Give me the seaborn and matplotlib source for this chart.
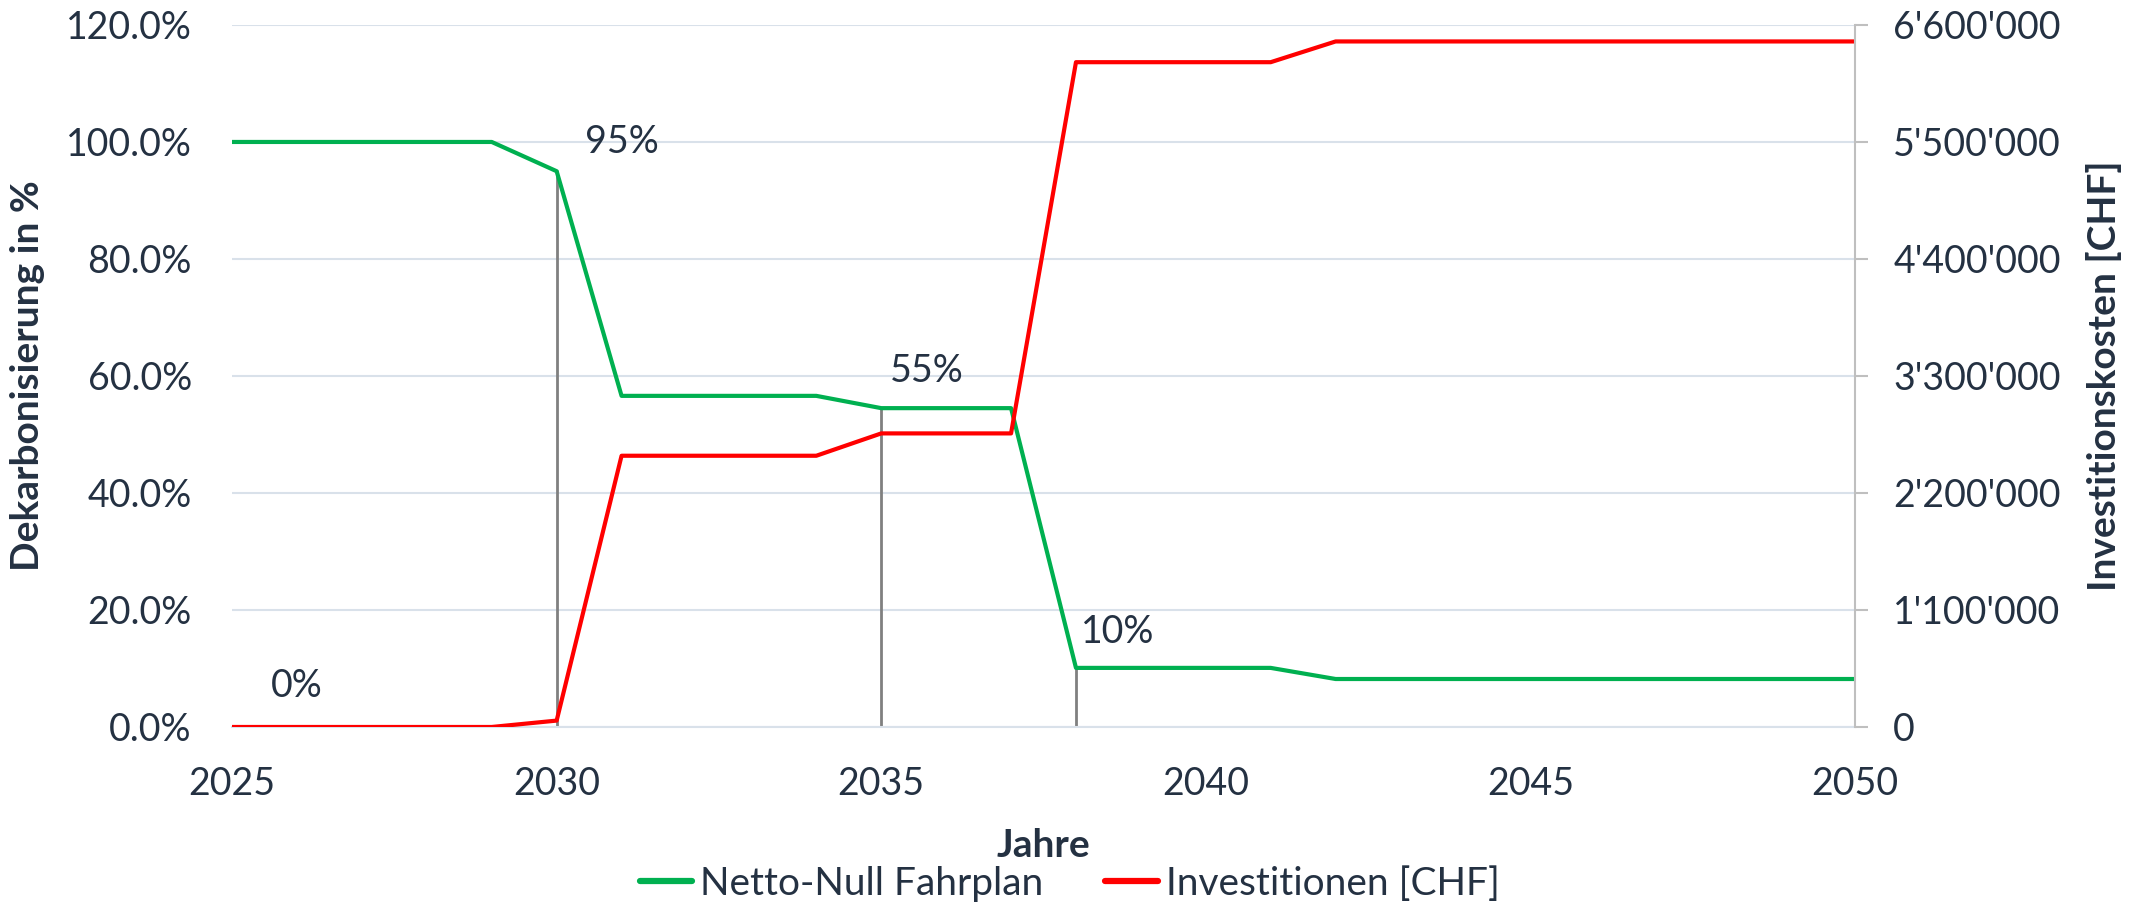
"""
Netto-Null Fahrplan: Dekarbonisierung und Investitionskosten 2025-2050.
"""

import matplotlib
matplotlib.use('Agg')
import numpy as np
import pandas as pd
import matplotlib.pyplot as plt
import seaborn as sns
from matplotlib.ticker import FuncFormatter

# -- Daten --
jahre = list(range(2025, 2051))
dekarbonisierung = [100.0, 100.0, 100.0, 100.0, 100.0, 95.0,
                    56.6, 56.6, 56.6, 56.6, 54.5, 54.5, 54.5,
                    10.1, 10.1, 10.1, 10.1, 8.2, 8.2, 8.2, 8.2,
                    8.2, 8.2, 8.2, 8.2, 8.2]
investitionen = [0, 0, 0, 0, 0, 60000,
                 2550000, 2550000, 2550000, 2550000, 2760000, 2760000, 2760000,
                 6250000, 6250000, 6250000, 6250000, 6445000, 6445000, 6445000,
                 6445000, 6445000, 6445000, 6445000, 6445000, 6445000]

# Beschriftungen (Text, Jahr, Wert in %)
label_texte = ['0%', '95%', '55%', '10%']
label_jahre = [2026.0, 2031.0, 2035.7, 2038.65]
label_werte = [7.0, 100.0, 60.8, 16.3]

# Senkrechte Markierungen
marker_jahre = [2030, 2035, 2038]

df = pd.DataFrame({'Jahr': jahre, 'Dekarbonisierung': dekarbonisierung,
                   'Investitionen': investitionen})

sns.set_style('white')
plt.rcParams['font.family'] = ['Lato', 'DejaVu Sans']

TEXT = '#243142'
GRUEN = '#00B050'
ROT = '#FF0000'
GRID = '#D9E1EA'
ACHSE = '#BFBFBF'

fig = plt.figure(figsize=(21.39, 9.11), dpi=100)
ax = fig.add_axes([0.1085, 0.202, 0.7587, 0.7706])
ax2 = ax.twinx()

sns.lineplot(data=df, x='Jahr', y='Dekarbonisierung', ax=ax, color=GRUEN,
             linewidth=3.0, label='Netto-Null Fahrplan', legend=False)
sns.lineplot(data=df, x='Jahr', y='Investitionen', ax=ax2, color=ROT,
             linewidth=3.0, label='Investitionen [CHF]', legend=False)

# senkrechte graue Linien bis zur Kurve
werte = dict(zip(jahre, dekarbonisierung))
for j in marker_jahre:
    ax.plot([j, j], [0, werte[j]], color='#808080', linewidth=2, zorder=1)

for t, x, y in zip(label_texte, label_jahre, label_werte):
    ax.text(x, y, t, fontsize=27, color=TEXT, ha='center', va='center')

ax.set_xlim(2025, 2050)
ax.set_ylim(0, 120)
ax2.set_ylim(0, 6600000)
ax.set_xticks(range(2025, 2051, 5))
ax.set_yticks(np.arange(0, 121, 20))
ax2.set_yticks(np.arange(0, 6600001, 1100000))
ax.yaxis.set_major_formatter(FuncFormatter(lambda v, p: '{:.1f}%'.format(v)))
ax2.yaxis.set_major_formatter(
    FuncFormatter(lambda v, p: '{:,.0f}'.format(v).replace(',', "'")))

ax.grid(True, axis='y', color=GRID, linewidth=1.5)
ax.set_axisbelow(True)
for a in (ax, ax2):
    for s in a.spines.values():
        s.set_visible(False)
ax.spines['bottom'].set_visible(True)
ax.spines['bottom'].set_color(GRID)
ax.spines['bottom'].set_linewidth(1.5)
ax2.spines['right'].set_visible(True)
ax2.spines['right'].set_color(ACHSE)
ax2.spines['right'].set_linewidth(1.5)

ax.tick_params(axis='x', colors=TEXT, labelsize=27, length=10, width=1.5,
               direction='in', color=GRID, pad=28)
ax.tick_params(axis='y', colors=TEXT, labelsize=27, length=0, pad=29)
ax2.tick_params(axis='y', colors=TEXT, labelsize=27, length=9.5, width=1.5,
                color=ACHSE, direction='out', pad=18)

ax.set_xlabel('Jahre', fontsize=28, fontweight='bold', color=TEXT, labelpad=19)
ax.set_ylabel('Dekarbonisierung in %', fontsize=28, fontweight='bold',
              color=TEXT, labelpad=15)
ax2.set_ylabel('Investitionskosten [CHF]', fontsize=28, fontweight='bold',
               color=TEXT, labelpad=18)

h1, l1 = ax.get_legend_handles_labels()
h2, l2 = ax2.get_legend_handles_labels()
leg = fig.legend(h1 + h2, l1 + l2, loc='lower center', ncol=2, frameon=False,
                 fontsize=28, labelcolor=TEXT, bbox_to_anchor=(0.5, -0.028),
                 handlelength=1.35, handletextpad=0.2, columnspacing=1.6)
for line in leg.get_lines():
    line.set_linewidth(4.5)

fig.savefig('out.png', dpi=100)
plt.close(fig)
